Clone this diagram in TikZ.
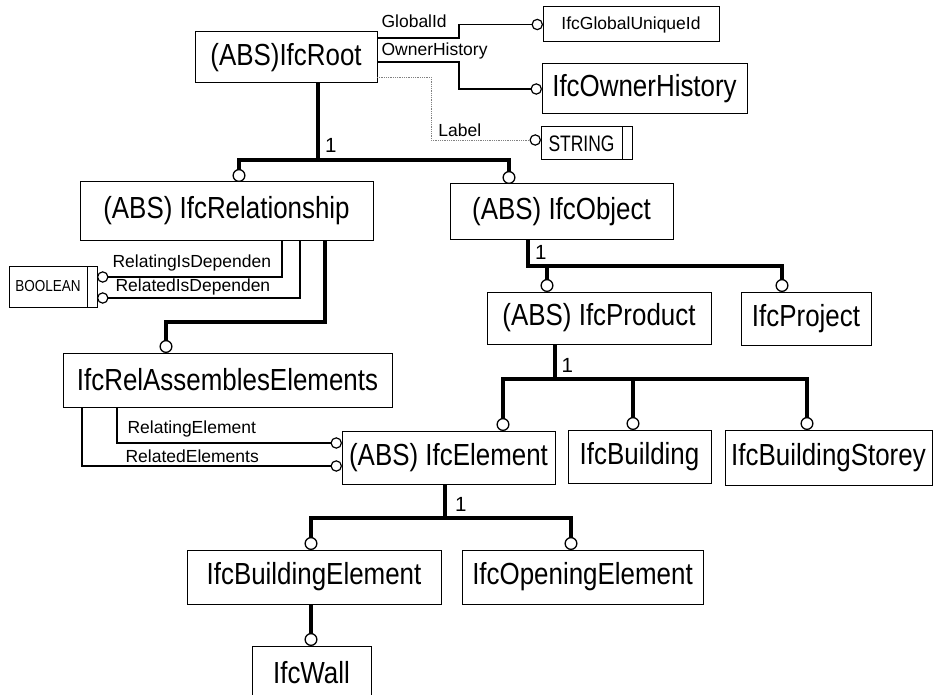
\documentclass[tikz,border=0pt]{standalone}
\usepackage{fontspec}
\setmainfont{Liberation Sans}
\newfontfamily\ifctall{Liberation Sans}[FakeStretch=0.85]
\newfontfamily\ifcnarrow{Liberation Sans}[FakeStretch=0.78]
\usetikzlibrary{arrows.meta,positioning}

\newcommand\ifcbig{\ifctall\fontsize{30.5}{34}\selectfont}
\newcommand\ifcsmall{\fontsize{17.5}{20}\selectfont}
\newcommand\ifcstring{\ifcnarrow\fontsize{22.4}{26}\selectfont}
\newcommand\ifctiny{\ifctall\fontsize{15.9}{18}\selectfont}
\newcommand\ifccard{\fontsize{20.5}{24}\selectfont}

\begin{document}
\begin{tikzpicture}[x=1pt,y=-1pt,
          entity/.style={draw,rectangle,line width=1pt,inner sep=0pt,outer sep=0pt,font=\ifcbig},
          basetype/.style={entity,font=\ifcsmall},
          strip/.style={draw,rectangle,line width=1pt,inner sep=0pt,outer sep=0pt,minimum width=10pt},
          subtype/.style={line width=4pt,-{Circle[open,length=13pt,width=13pt,line width=1.3pt 0]}},
          attr/.style={line width=1.1pt,-{Circle[open,length=11.5pt,width=11.5pt,line width=1.2pt 0]}},
          optattr/.style={line width=0.8pt,gray,densely dotted,-{Circle[open,length=11.5pt,width=11.5pt,line width=1.2pt 0,black]}},
          lbl/.style={font=\ifcsmall,text=black,anchor=base west,inner sep=0pt},
          card/.style={font=\ifccard,anchor=base west,inner sep=0pt,xshift=5pt,yshift=7pt}
        ]
        \useasboundingbox (0,0) rectangle (934,695);

        %entities
        \node[entity,minimum width=182pt,minimum height=51pt] (root) at (286,57.5) {(ABS)IfcRoot};
        \node[basetype,minimum width=176pt,minimum height=35pt] (guid) at (631,24.5) {IfcGlobalUniqueId};
        \node[entity,minimum width=205pt,minimum height=50pt] (owner) at (644.5,89) {IfcOwnerHistory};
        \node[basetype,font=\ifcstring,minimum width=81pt,minimum height=33pt] (string) at (581.5,143.5) {STRING};
        \node[strip,minimum height=33pt,right=0pt of string] (stringend) {};
        \node[entity,minimum width=293pt,minimum height=58pt] (rel) at (226.5,211) {(ABS) IfcRelationship};
        \node[entity,minimum width=223pt,minimum height=55pt] (obj) at (561.5,211.5) {(ABS) IfcObject};
        \node[basetype,font=\ifctiny,minimum width=78pt,minimum height=41pt] (bool) at (48,286.5) {BOOLEAN};
        \node[strip,minimum height=41pt,right=0pt of bool] (boolend) {};
        \node[entity,minimum width=224pt,minimum height=52pt] (prod) at (599,318) {(ABS) IfcProduct};
        \node[entity,minimum width=130pt,minimum height=53pt] (proj) at (806,318.5) {IfcProject};
        \node[entity,minimum width=329pt,minimum height=54pt] (rae) at (227.5,380) {IfcRelAssemblesElements};
        \node[entity,minimum width=213pt,minimum height=53pt] (elem) at (448.5,457.5) {(ABS) IfcElement};
        \node[entity,minimum width=143pt,minimum height=53pt] (bldg) at (639.5,456.5) {IfcBuilding};
        \node[entity,minimum width=207pt,minimum height=55pt] (storey) at (828.5,457.5) {IfcBuildingStorey};
        \node[entity,minimum width=254pt,minimum height=54pt] (belem) at (314,577) {IfcBuildingElement};
        \node[entity,minimum width=241pt,minimum height=54pt] (opening) at (582.5,577) {IfcOpeningElement};
        \node[entity,minimum width=119pt,minimum height=54pt] (wall) at (311.5,673) {IfcWall};

        %subtypes
        \draw[subtype] ([xshift=32pt]root.south) -- ++(0,77) node[card] {1} -| ([xshift=12.5pt]rel.north);
        \draw[subtype] ([xshift=32pt]root.south) -- ++(0,77) -| ([xshift=-52.5pt]obj.north);
        \draw[subtype] ([xshift=-33.5pt]obj.south) -- ++(0,27) node[card] {1} -| ([xshift=-52pt]prod.north);
        \draw[subtype] ([xshift=-33.5pt]obj.south) -- ++(0,27) -| ([xshift=-24pt]proj.north);
        \draw[subtype] ([xshift=-44.5pt]prod.south) -- ++(0,35) node[card] {1} -| ([xshift=54.5pt]elem.north);
        \draw[subtype] ([xshift=-44.5pt]prod.south) -- ++(0,35) -| ([xshift=-6.5pt]bldg.north);
        \draw[subtype] ([xshift=-44.5pt]prod.south) -- ++(0,35) -| ([xshift=-21.5pt]storey.north);
        \draw[subtype] ([xshift=-3.5pt]elem.south) -- ++(0,34) node[card,xshift=3pt] {1} -| ([xshift=-3pt]belem.north);
        \draw[subtype] ([xshift=-3.5pt]elem.south) -- ++(0,34) -| ([xshift=-11.5pt]opening.north);
        \draw[subtype] ([xshift=-3pt]belem.south) -- ([xshift=-0.5pt]wall.north);
        \draw[subtype] ([xshift=98.5pt]rel.south) -- ++(0,82) -| ([xshift=-61.5pt]rae.north);

        %attributes
        \draw[attr] ([yshift=19.5pt]root.east) -- node[lbl,pos=0,xshift=4pt,yshift=10pt] {GlobalId} ++(82,0) |- (guid.west);
        \draw[attr] ([yshift=-4.5pt]root.east) -- node[lbl,pos=0,xshift=4pt,yshift=6pt] {OwnerHistory} ++(82,0) |- (owner.west);
        \draw[optattr] ([yshift=-19.5pt]root.east) -- ++(54,0) |- node[lbl,xshift=7pt,yshift=3pt] {Label} ([yshift=3.5pt]string.west);
        \draw[attr] ([xshift=55.5pt]rel.south) |- node[lbl,pos=1,xshift=15pt,yshift=10pt] {RelatingIsDependen} ([yshift=9.5pt]boolend.east);
        \draw[attr] ([xshift=73.5pt]rel.south) |- node[lbl,pos=1,xshift=18pt,yshift=7pt] {RelatedIsDependen} ([yshift=-11.5pt]boolend.east);
        \draw[attr] ([xshift=-110.5pt]rae.south) |- node[lbl,xshift=10pt,yshift=10pt] {RelatingElement} ([yshift=14.5pt]elem.west);
        \draw[attr] ([xshift=-145.5pt]rae.south) |- node[lbl,xshift=43pt,yshift=4pt] {RelatedElements} ([yshift=-8.5pt]elem.west);
    \end{tikzpicture}
\end{document}
